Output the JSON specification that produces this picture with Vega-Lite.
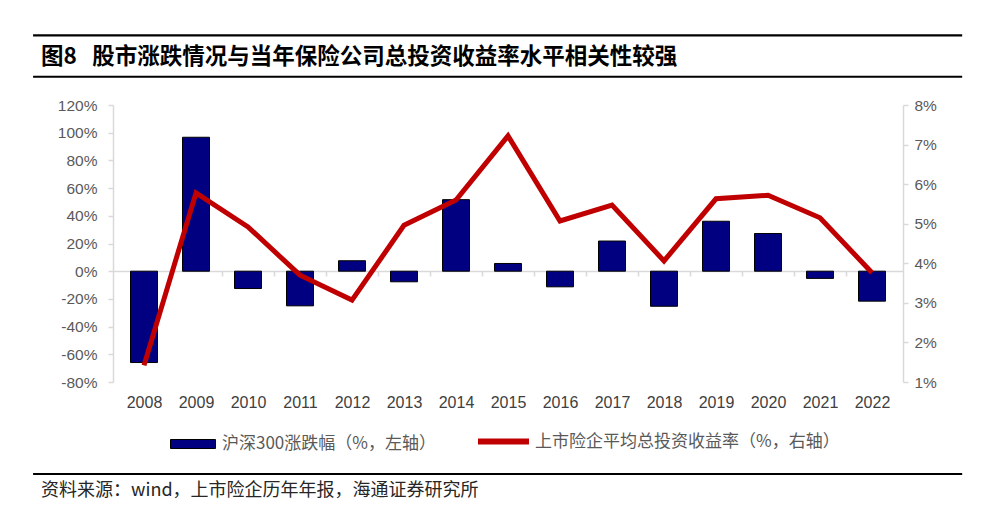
{
  "$schema": "https://vega.github.io/schema/vega-lite/v6.json",
  "width": 790,
  "height": 277,
  "autosize": {"type": "none"},
  "padding": {"left": 113, "top": 105, "right": 97, "bottom": 149},
  "background": "white",
  "config": {
    "view": {"stroke": null},
    "axis": {"grid": false, "labelFont": "Liberation Sans", "labelColor": "#595959", "domainColor": "#d9d9d9", "tickColor": "#d9d9d9", "labelOverlap": false}
  },
  "data": {
    "values": [
      {"year": 2008, "csi": -65.95, "rate": 1.42},
      {"year": 2009, "csi": 96.71, "rate": 5.78},
      {"year": 2010, "csi": -12.51, "rate": 4.92},
      {"year": 2011, "csi": -25.01, "rate": 3.70},
      {"year": 2012, "csi": 7.55, "rate": 3.07},
      {"year": 2013, "csi": -7.65, "rate": 4.96},
      {"year": 2014, "csi": 51.66, "rate": 5.60},
      {"year": 2015, "csi": 5.58, "rate": 7.22},
      {"year": 2016, "csi": -11.28, "rate": 5.07},
      {"year": 2017, "csi": 21.78, "rate": 5.47},
      {"year": 2018, "csi": -25.31, "rate": 4.06},
      {"year": 2019, "csi": 36.07, "rate": 5.63},
      {"year": 2020, "csi": 27.21, "rate": 5.72},
      {"year": 2021, "csi": -5.20, "rate": 5.15},
      {"year": 2022, "csi": -21.63, "rate": 3.76}
    ]
  },
  "layer": [
    {
      "layer": [
        {
          "mark": {"type": "bar", "size": 27, "stroke": "#000000", "strokeWidth": 1},
          "encoding": {
            "x": {
              "field": "year", "type": "quantitative",
              "scale": {"domain": [2007.5, 2022.5], "nice": false, "zero": false},
              "axis": {"orient": "bottom", "values": [2008, 2009, 2010, 2011, 2012, 2013, 2014, 2015, 2016, 2017, 2018, 2019, 2020, 2021, 2022], "format": "d", "domain": false, "ticks": false, "tickSize": 0, "labelPadding": 12, "labelFontSize": 16, "labelFlush": false, "labelOverlap": false, "labelColor": "#404040", "title": null}
            },
            "y": {
              "field": "csi", "type": "quantitative",
              "scale": {"domain": [-80, 120], "nice": false},
              "axis": {"orient": "left", "values": [-80, -60, -40, -20, 0, 20, 40, 60, 80, 100, 120], "labelExpr": "datum.value + '%'", "labelOverlap": false, "labelBound": false, "tickSize": 5, "labelPadding": 11, "labelFontSize": 15.5, "domainWidth": 1.5, "tickWidth": 1.5, "title": null}
            },
            "fill": {
              "datum": "沪深300涨跌幅（%，左轴）", "type": "nominal",
              "scale": {"range": ["#000080"]},
              "legend": {"orient": "none", "legendX": 57, "legendY": 316, "title": null, "padding": 0, "symbolType": "M-1,-0.2H1V0.2H-1Z", "symbolSize": 2025, "symbolStrokeColor": "#000000", "symbolStrokeWidth": 1, "labelFont": "Noto Sans CJK SC", "labelFontSize": 17, "labelColor": "#595959", "labelOffset": 6, "labelLimit": 400}
            }
          }
        },
        {
          "data": {"values": [{}]},
          "mark": {"type": "rule", "color": "#000000", "strokeWidth": 2.2},
          "encoding": {
            "x": {"datum": 2005.867, "type": "quantitative", "axis": null, "scale": {"domain": [2007.5, 2022.5], "nice": false, "zero": false}},
            "x2": {"datum": 2023.734},
            "y": {"datum": 170.2, "type": "quantitative", "axis": null, "scale": {"domain": [-80, 120], "nice": false}}
          }
        },
        {
          "data": {"values": [{}]},
          "mark": {"type": "rule", "color": "#000000", "strokeWidth": 2},
          "encoding": {
            "x": {"datum": 2005.867, "type": "quantitative", "axis": null, "scale": {"domain": [2007.5, 2022.5], "nice": false, "zero": false}},
            "x2": {"datum": 2023.734},
            "y": {"datum": 140.4, "type": "quantitative", "axis": null, "scale": {"domain": [-80, 120], "nice": false}}
          }
        },
        {
          "data": {"values": [{}]},
          "mark": {"type": "rule", "color": "#000000", "strokeWidth": 2},
          "encoding": {
            "x": {"datum": 2005.867, "type": "quantitative", "axis": null, "scale": {"domain": [2007.5, 2022.5], "nice": false, "zero": false}},
            "x2": {"datum": 2023.734},
            "y": {"datum": -146.4, "type": "quantitative", "axis": null, "scale": {"domain": [-80, 120], "nice": false}}
          }
        },
        {
          "data": {"values": [{}]},
          "mark": {"type": "text", "align": "left", "baseline": "middle", "font": "Noto Sans CJK SC", "fontWeight": "bold", "fontSize": 22.5, "color": "#000000", "text": "图8\u00a0\u00a0\u00a0股市涨跌情况与当年保险公司总投资收益率水平相关性较强"},
          "encoding": {
            "x": {"datum": 2006.02, "type": "quantitative", "axis": null, "scale": {"domain": [2007.5, 2022.5], "nice": false, "zero": false}},
            "y": {"datum": 154.4, "type": "quantitative", "axis": null, "scale": {"domain": [-80, 120], "nice": false}}
          }
        },
        {
          "data": {"values": [{}]},
          "mark": {"type": "text", "align": "left", "baseline": "middle", "font": "Noto Sans CJK SC", "fontSize": 18, "color": "#262626", "text": "资料来源：wind，上市险企历年年报，海通证券研究所"},
          "encoding": {
            "x": {"datum": 2006.02, "type": "quantitative", "axis": null, "scale": {"domain": [2007.5, 2022.5], "nice": false, "zero": false}},
            "y": {"datum": -158.7, "type": "quantitative", "axis": null, "scale": {"domain": [-80, 120], "nice": false}}
          }
        }
      ],
      "resolve": {"axis": {"x": "independent", "y": "independent"}}
    },
    {
      "mark": {"type": "line", "strokeWidth": 5},
      "encoding": {
        "x": {
          "field": "year", "type": "quantitative",
          "scale": {"domain": [2007.5, 2022.5], "nice": false, "zero": false},
          "axis": {"orient": "bottom", "offset": -111, "values": [2008.5, 2009.5, 2010.5, 2011.5, 2012.5, 2013.5, 2014.5, 2015.5, 2016.5, 2017.5, 2018.5, 2019.5, 2020.5, 2021.5], "labels": false, "domain": true, "ticks": true, "tickSize": 5, "domainWidth": 1.5, "tickWidth": 1.5, "title": null}
        },
        "y": {
          "field": "rate", "type": "quantitative",
          "scale": {"domain": [1, 8], "nice": false, "zero": false},
          "axis": {"orient": "right", "values": [1, 2, 3, 4, 5, 6, 7, 8], "labelExpr": "datum.value + '%'", "labelOverlap": false, "tickSize": 5, "labelPadding": 6, "labelFontSize": 15.5, "domainWidth": 1.5, "tickWidth": 1.5, "title": null}
        },
        "stroke": {
          "datum": "上市险企平均总投资收益率（%，右轴）", "type": "nominal",
          "scale": {"range": ["#C00000"]},
          "legend": {"orient": "none", "legendX": 362, "legendY": 308, "title": null, "padding": 0, "symbolType": "stroke", "symbolSize": 2601, "symbolStrokeWidth": 6, "labelFont": "Noto Sans CJK SC", "labelFontSize": 17, "labelColor": "#595959", "labelOffset": 3, "labelLimit": 400}
        }
      }
    }
  ],
  "resolve": {"scale": {"y": "independent"}, "axis": {"x": "independent", "y": "independent"}}
}
